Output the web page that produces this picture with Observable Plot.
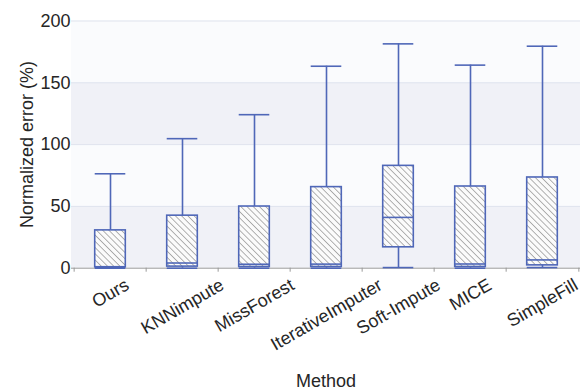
<!DOCTYPE html>
<html><head><meta charset="utf-8">
<script src="https://cdn.jsdelivr.net/npm/d3@7"></script>
<script src="https://cdn.jsdelivr.net/npm/@observablehq/plot@0.6"></script>
<style>html,body{margin:0;padding:0;background:#fff}</style>
</head><body><div id="chart"></div>
<script>
const methods = ["Ours", "KNNimpute", "MissForest", "IterativeImputer", "Soft-Impute", "MICE", "SimpleFill"];
const whiskerLow = [0, 0, 0, 0, 0.5, 0, 0.5];
const q1Values = [0.8, 1.3, 1.0, 1.0, 16.9, 1.0, 2.3];
const medianValues = [0.8, 4.2, 3.2, 3.3, 41.1, 3.4, 6.7];
const q3Values = [30.6, 42.5, 49.9, 65.6, 82.8, 66.1, 73.4];
const whiskerHigh = [76.4, 104.8, 124.2, 163.4, 181.5, 164.3, 179.6];
const yTicks = [0, 50, 100, 150, 200];
const xLabel = "Method";
const yLabel = "Normalized error (%)";

const rows = methods.map((m, i) => ({
  method: m, lo: whiskerLow[i], q1: q1Values[i], med: medianValues[i], q3: q3Values[i], hi: whiskerHigh[i]
}));
const bands = yTicks.slice(0, -1).map((t, i) => ({y1: t, y2: yTicks[i + 1], shaded: i % 2 === 0}));

const W = 583, H = 390, ML = 71, MR = 3, MT = 20.5, MB = 122.3;
const bw = (W - ML - MR) / methods.length;
const boxInset = (bw - 31.3) / 2;
const blue = "#4f67b8";
const font = "'Liberation Sans', Arial, sans-serif";
const textColor = "#262626";

const ctx = document.createElement("canvas").getContext("2d");
ctx.font = "18px 'Liberation Sans'";
const labelMarks = methods.map(m => {
  const w = ctx.measureText(m).width;
  const dy = 8 + (w * 0.5 + 17 * 0.866) / 2;
  return Plot.text([m], {x: d => d, text: d => d, frameAnchor: "bottom", dy, rotate: -30,
    fontSize: 18, textAnchor: "middle", lineAnchor: "middle", fill: textColor});
});

const plot = Plot.plot({
  width: W, height: H,
  marginLeft: ML, marginRight: MR, marginTop: MT, marginBottom: MB,
  style: {fontFamily: font, fontSize: "18px", background: "#fff", color: textColor, overflow: "visible"},
  x: {type: "band", domain: methods, padding: 0},
  y: {domain: [0, 200]},
  marks: [
    Plot.rectY(bands, {y1: "y1", y2: "y2", fill: d => d.shaded ? "#f0f1f7" : "#fafbfd"}),
    Plot.gridY({ticks: yTicks.slice(1), stroke: "#dfe3ee", strokeOpacity: 1}),
    Plot.ruleY([0], {stroke: "#9a9a9a"}),
    Plot.axisX({tickSize: 4, tickFormat: () => "", dx: -bw / 2, stroke: "#9a9a9a", label: null}),
    Plot.axisX({ticks: [methods[methods.length - 1]], tickSize: 4, tickFormat: () => "", dx: bw / 2, stroke: "#9a9a9a", label: null}),
    Plot.axisY({ticks: yTicks, tickSize: 0, tickPadding: 1, fontSize: 18, label: null, fill: textColor}),
    Plot.text([yLabel], {text: d => d, frameAnchor: "left", dx: -44, rotate: -90, fontSize: 18, fill: textColor, textAnchor: "middle", lineAnchor: "middle"}),
    Plot.text([xLabel], {text: d => d, frameAnchor: "bottom", dy: 113, fontSize: 18, fill: textColor, textAnchor: "middle", lineAnchor: "middle"}),
    ...labelMarks,
    Plot.ruleX(rows, {x: "method", y1: "lo", y2: "hi", stroke: blue, strokeWidth: 1.6}),
    Plot.barY(rows, {x: "method", y1: "q1", y2: "q3", fill: "url(#hatch)", stroke: blue, strokeWidth: 1.6, insetLeft: boxInset, insetRight: boxInset}),
    Plot.tickY(rows, {x: "method", y: "med", stroke: blue, strokeWidth: 1.6, insetLeft: boxInset, insetRight: boxInset}),
    Plot.tickY(rows, {x: "method", y: "hi", stroke: blue, strokeWidth: 1.6, insetLeft: boxInset, insetRight: boxInset}),
    Plot.tickY(rows, {x: "method", y: "lo", stroke: blue, strokeWidth: 1.6, insetLeft: boxInset, insetRight: boxInset})
  ]
});

const defs = d3.select(plot).insert("defs", ":first-child");
const pat = defs.append("pattern").attr("id", "hatch").attr("patternUnits", "userSpaceOnUse")
  .attr("width", 4.4).attr("height", 4.4).attr("patternTransform", "rotate(-45)");
pat.append("rect").attr("width", 4.4).attr("height", 4.4).attr("fill", "#fbfbfb");
pat.append("line").attr("x1", 2.2).attr("y1", 0).attr("x2", 2.2).attr("y2", 4.4).attr("stroke", "#a8a8a8").attr("stroke-width", 0.9);

document.getElementById("chart").appendChild(plot);
</script>
</body></html>
